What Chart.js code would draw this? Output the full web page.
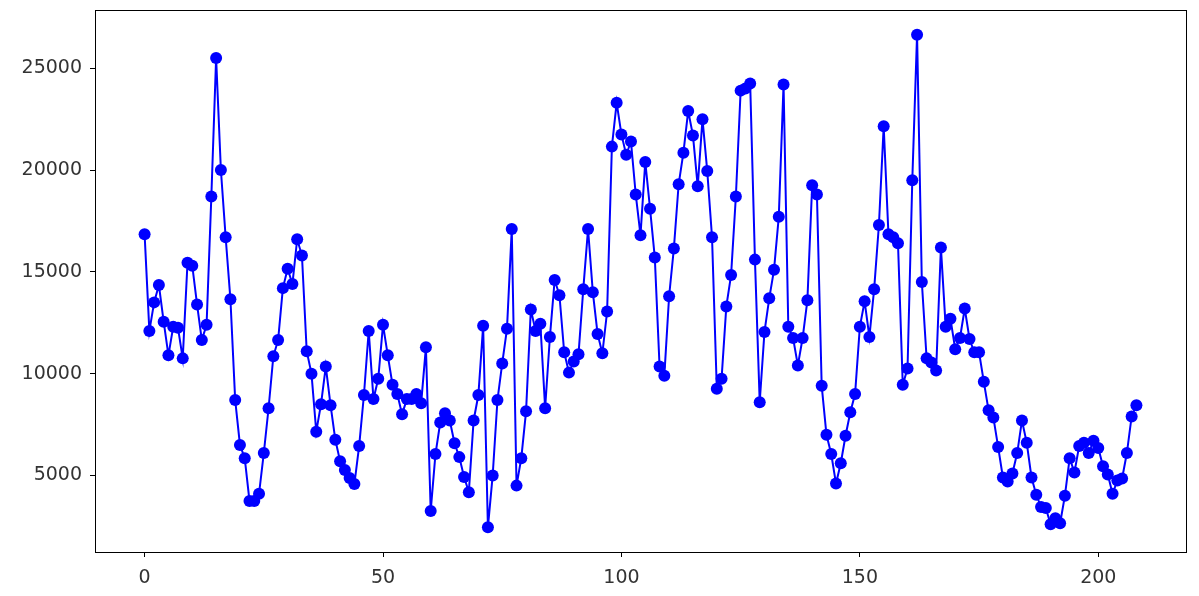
<!DOCTYPE html>
<html>
<head>
<meta charset="utf-8">
<script src="https://cdn.jsdelivr.net/npm/chart.js@4.4.1/dist/chart.umd.min.js"></script>
<style>
  html, body { margin: 0; padding: 0; background: #fff; }
  #wrap { width: 1199px; height: 596px; }
</style>
</head>
<body>
<div id="wrap"><canvas id="lineChart" width="1199" height="596"></canvas></div>
<script>
// values, index 0..208
const values = [
  16850, 12100, 13500, 14350, 12550, 10900, 12300, 12250, 10750, 15450,
  15300, 13400, 11650, 12400, 18700, 25500, 20000, 16700, 13650, 8700,
  6500, 5850, 3750, 3750, 4100, 6100, 8300, 10850, 11650, 14200,
  15150, 14400, 16600, 15800, 11100, 10000, 7150, 8500, 10350, 8450,
  6750, 5700, 5270, 4880, 4580, 6450, 8950, 12100, 8750, 9750,
  12400, 10900, 9450, 9000, 8000, 8750, 8750, 9000, 8550, 11300,
  3250, 6050, 7600, 8050, 7700, 6580, 5900, 4920, 4180, 7700,
  8950, 12350, 2450, 5000, 8700, 10500, 12200, 17100, 4500, 5850,
  8150, 13150, 12100, 12450, 8300, 11800, 14600, 13850, 11050, 10050,
  10600, 10950, 14150, 17100, 14000, 11950, 11000, 13050, 21150, 23300,
  21750, 20750, 21400, 18800, 16800, 20400, 18100, 15700, 10350, 9900,
  13800, 16150, 19300, 20850, 22900, 21700, 19200, 22500, 19950, 16700,
  9260, 9750, 13300, 14850, 18700, 23900, 24000, 24250, 15600, 8600,
  12050, 13700, 15100, 17700, 24200, 12300, 11750, 10400, 11750, 13600,
  19250, 18800, 9400, 7000, 6050, 4600, 5600, 6950, 8100, 9000,
  12300, 13550, 11800, 14150, 17300, 22150, 16850, 16700, 16400, 9450,
  10250, 19500, 26650, 14500, 10750, 10550, 10150, 16200, 12300, 12700,
  11200, 11750, 13200, 11700, 11050, 11050, 9600, 8200, 7850, 6400,
  4900, 4700, 5100, 6100, 7700, 6600, 4900, 4050, 3450, 3400,
  2600, 2900, 2650, 4000, 5850, 5150, 6450, 6600, 6100, 6700,
  6350, 5450, 5050, 4100, 4750, 4850, 6100, 7900, 8450
];
const xTicks = [0, 50, 100, 150, 200];
const yTicks = [5000, 10000, 15000, 20000, 25000];

const points = values.map((v, i) => ({ x: i, y: v }));

// matplotlib-like 5% margins
const xPad = (values.length - 1) * 0.05;
const yMin = Math.min(...values), yMax = Math.max(...values);
const yPad = (yMax - yMin) * 0.05;

const framePlugin = {
  id: 'frame',
  afterDraw(chart) {
    const { ctx, chartArea: a } = chart;
    ctx.save();
    ctx.strokeStyle = '#000';
    ctx.lineWidth = 1;
    ctx.strokeRect(Math.round(a.left) + 0.5, Math.round(a.top) + 0.5,
      Math.round(a.right - a.left), Math.round(a.bottom - a.top));
    ctx.restore();
  }
};

const tickFont = { family: 'DejaVu Sans, sans-serif', size: 19 };

new Chart(document.getElementById('lineChart'), {
  type: 'line',
  data: {
    datasets: [{
      data: points,
      borderColor: '#0000ff',
      backgroundColor: '#0000ff',
      borderWidth: 2,
      pointRadius: 6,
      pointHoverRadius: 6,
      pointBorderWidth: 0,
      tension: 0
    }]
  },
  options: {
    responsive: false,
    animation: false,
    events: [],
    layout: { padding: { top: 10, right: 13, left: 0, bottom: 0 } },
    plugins: { legend: { display: false }, tooltip: { enabled: false } },
    scales: {
      x: {
        type: 'linear',
        min: -xPad,
        max: values.length - 1 + xPad,
        afterBuildTicks: s => { s.ticks = xTicks.map(v => ({ value: v })); },
        afterFit: s => { s.height = 44; s.paddingLeft = 0; s.paddingRight = 0; },
        border: { display: false },
        grid: { drawOnChartArea: false, drawTicks: true, tickLength: 5, color: '#000' },
        ticks: { color: '#333', font: tickFont, padding: 10, maxRotation: 0 }
      },
      y: {
        type: 'linear',
        min: yMin - yPad,
        max: yMax + yPad,
        afterBuildTicks: s => { s.ticks = yTicks.map(v => ({ value: v })); },
        afterFit: s => { s.width = 95; s.paddingTop = 0; s.paddingBottom = 0; },
        border: { display: false },
        grid: { drawOnChartArea: false, drawTicks: true, tickLength: 5, color: '#000' },
        ticks: { color: '#333', font: tickFont, padding: 8, callback: v => String(v) }
      }
    }
  },
  plugins: [framePlugin]
});
</script>
</body>
</html>
